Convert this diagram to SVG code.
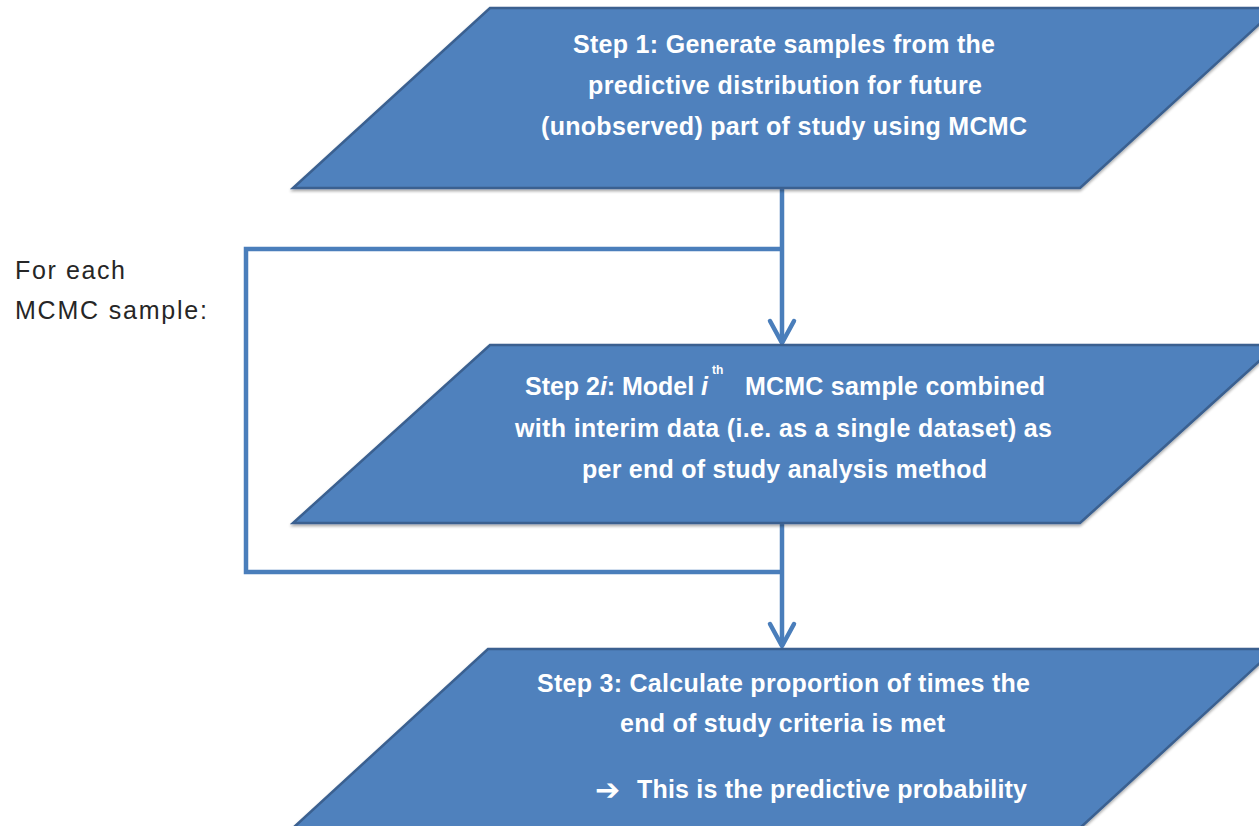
<svg xmlns="http://www.w3.org/2000/svg" width="1259" height="826" viewBox="0 0 1259 826">
  <defs>
    <style>
      .shape { fill: #4F81BD; stroke: #3A6090; stroke-width: 2.5; stroke-linejoin: miter; }
      .lbl { font-family: "Liberation Sans", Arial, sans-serif; font-weight: bold; font-size: 25px; fill: #FFFFFF; }
      .side { font-family: "Liberation Sans", Arial, sans-serif; font-size: 25px; fill: #262626; }
      .conn { fill: none; stroke: #4A7EBB; stroke-width: 4.5; stroke-linecap: butt; stroke-linejoin: miter; }
    </style>
    <filter id="shadow" x="-5%" y="-5%" width="110%" height="115%">
      <feGaussianBlur in="SourceAlpha" stdDeviation="1.5"/>
      <feOffset dx="0" dy="2" result="b"/>
      <feComponentTransfer><feFuncA type="linear" slope="0.35"/></feComponentTransfer>
      <feMerge><feMergeNode/><feMergeNode in="SourceGraphic"/></feMerge>
    </filter>
    <marker id="chev" viewBox="-28 -16 32 32" markerUnits="userSpaceOnUse" markerWidth="32" markerHeight="32" refX="0" refY="0" orient="auto">
      <path d="M-22,-12 L0,0 L-22,12" fill="none" stroke="#4A7EBB" stroke-width="4.5" stroke-linecap="round" stroke-linejoin="round"/>
    </marker>
  </defs>

  <rect x="0" y="0" width="1259" height="826" fill="#FFFFFF"/>

  <g id="connectors">
    <path class="conn" d="M782,249 H246 V572 H782"/>
    <path class="conn" d="M782,189 V343" marker-end="url(#chev)"/>
    <path class="conn" d="M782,524 V646" marker-end="url(#chev)"/>
  </g>

  <g id="step1">
    <polygon class="shape" filter="url(#shadow)" points="490,8 1277,8 1080,188 293,188"/>
    <text class="lbl" x="573" y="53" textLength="422">Step 1: Generate samples from the</text>
    <text class="lbl" x="588" y="94" textLength="394">predictive distribution for future</text>
    <text class="lbl" x="541" y="135" textLength="486">(unobserved) part of study using MCMC</text>
  </g>

  <g id="loop-label">
    <text class="side" x="15" y="279" textLength="110">For each</text>
    <text class="side" x="15" y="319" textLength="192">MCMC sample:</text>
  </g>

  <g id="step2">
    <polygon class="shape" filter="url(#shadow)" points="490,345 1277,345 1080,523 293,523"/>
    <text class="lbl" x="525" y="395" textLength="183">Step 2<tspan font-style="italic">i</tspan>: Model <tspan font-style="italic">i</tspan></text>
    <text class="lbl" x="712" y="374" style="font-size:12px">th</text>
    <text class="lbl" x="745" y="395" textLength="300">MCMC sample combined</text>
    <text class="lbl" x="515" y="437" textLength="537">with interim data (i.e. as a single dataset) as</text>
    <text class="lbl" x="582" y="478" textLength="405">per end of study analysis method</text>
  </g>

  <g id="step3">
    <polygon class="shape" filter="url(#shadow)" points="488,649 1275,649 1080,828 293,828"/>
    <text class="lbl" x="537" y="692" textLength="493">Step 3: Calculate proportion of times the</text>
    <text class="lbl" x="620" y="732" textLength="325">end of study criteria is met</text>
    <text class="lbl" x="595" y="800" style="font-family:'DejaVu Sans',sans-serif;font-size:30px" textLength="22">➔</text>
    <text class="lbl" x="637" y="798" textLength="390">This is the predictive probability</text>
  </g>
</svg>
